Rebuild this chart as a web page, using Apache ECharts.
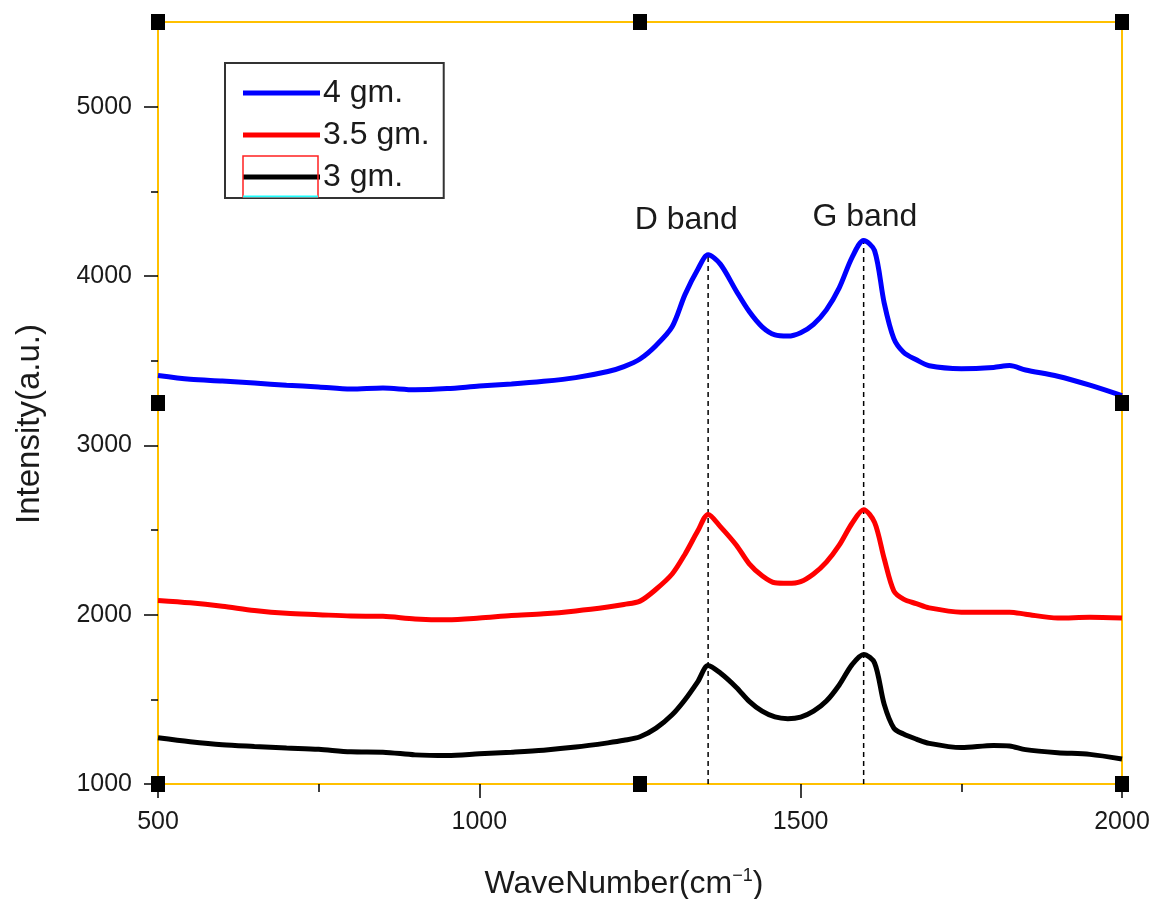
<!DOCTYPE html>
<html>
<head>
<meta charset="utf-8">
<script src="https://cdn.jsdelivr.net/npm/echarts@6/dist/echarts.min.js"></script>
<style>
  html, body { margin: 0; padding: 0; background: #fff; }
  #chart { width: 1157px; height: 899px; }
</style>
</head>
<body>
<div id="chart"></div>
<script>
// wavenumber (cm-1)
const waveNumber = [500, 550, 600, 650, 700, 750, 800, 850, 900, 950, 1000, 1050, 1100, 1150, 1200, 1225, 1250, 1275, 1300, 1320, 1340, 1356, 1375, 1400, 1420, 1440, 1460, 1480, 1500, 1520, 1540, 1560, 1580, 1598, 1615, 1630, 1645, 1660, 1680, 1700, 1750, 1800, 1825, 1850, 1900, 1950, 2000];
const intensity4gm = [3412, 3390, 3380, 3368, 3355, 3345, 3332, 3338, 3328, 3335, 3350, 3362, 3378, 3400, 3436, 3465, 3510, 3590, 3700, 3890, 4040, 4125, 4070, 3910, 3790, 3700, 3652, 3645, 3665, 3715, 3800, 3930, 4110, 4210, 4150, 3840, 3630, 3550, 3505, 3470, 3453, 3460, 3471, 3445, 3408, 3355, 3293];
const intensity35gm = [2084, 2070, 2050, 2025, 2008, 2000, 1992, 1990, 1975, 1970, 1980, 1995, 2005, 2022, 2045, 2060, 2080, 2150, 2240, 2357, 2495, 2592, 2520, 2410, 2300, 2230, 2188, 2185, 2195, 2240, 2310, 2410, 2540, 2620, 2545, 2330, 2140, 2092, 2065, 2040, 2015, 2015, 2015, 2003, 1980, 1985, 1980];
const intensity3gm = [1273, 1250, 1232, 1222, 1213, 1205, 1190, 1188, 1172, 1168, 1178, 1188, 1200, 1218, 1243, 1258, 1279, 1330, 1409, 1498, 1605, 1700, 1655, 1570, 1488, 1430, 1396, 1386, 1395, 1430, 1490, 1585, 1705, 1765, 1715, 1470, 1330, 1295, 1265, 1240, 1215, 1228, 1225, 1203, 1185, 1175, 1148];
const seriesNames = ['4 gm.', '3.5 gm.', '3 gm.'];

// band markers
const bandLabels = ['D band', 'G band'];
const bandX = [1356, 1598];
const bandTop = [4125, 4210];
const bandLabelX = [1322, 1600];
const bandLabelY = [4330, 4350];

const xTicks = [500, 1000, 1500, 2000];
const xMinorTicks = [750, 1250, 1750];
const yTicks = [1000, 2000, 3000, 4000, 5000];
const yMinorTicks = [1500, 2500, 3500, 4500];

const FONT = "'Liberation Sans', Arial, sans-serif";
const TEXT = '#1a1a1a';
const GRID = { left: 158, top: 22, right: 35, bottom: 115 };
const gw = 1157 - GRID.left - GRID.right;
const gh = 899 - GRID.top - GRID.bottom;

const zip = (xs, ys) => xs.map((x, i) => [x, ys[i]]);
const plain = v => String(v);

// selection handles around the frame
const graphics = [];
[0, 0.5, 1].forEach(fy => {
  [0, 0.5, 1].forEach(fx => {
    if (fx === 0.5 && fy === 0.5) return;
    graphics.push({
      type: 'rect', z: 100,
      shape: { x: GRID.left + fx * gw - 7, y: GRID.top + fy * gh - 8, width: 14, height: 16 },
      style: { fill: '#000' }
    });
  });
});
// stray frame behind the last legend sample
graphics.push({
  type: 'rect', z: 200,
  shape: { x: 243, y: 156, width: 75, height: 41 },
  style: { fill: 'none', stroke: '#FF2020', lineWidth: 1.5 }
});
graphics.push({
  type: 'line', z: 200,
  shape: { x1: 243, y1: 196.5, x2: 318, y2: 196.5 },
  style: { stroke: '#20FFFF', lineWidth: 2 }
});

const chart = echarts.init(document.getElementById('chart'));
const lineSeries = (name, ys, color) => ({
  name, type: 'line', data: zip(waveNumber, ys),
  smooth: 0.3, symbol: 'none', lineStyle: { color, width: 5 }, itemStyle: { color },
  z: 3
});

chart.setOption({
  backgroundColor: '#fff',
  animation: false,
  textStyle: { fontFamily: FONT },
  grid: [
    Object.assign({ show: true, borderColor: '#FFC000', borderWidth: 2, backgroundColor: 'transparent', outerBoundsMode: 'none', containLabel: false }, GRID),
    Object.assign({ outerBoundsMode: 'none', containLabel: false }, GRID)
  ],
  xAxis: [{
    type: 'value', min: 500, max: 2000, interval: 500,
    name: 'WaveNumber(cm{sup|−1})', nameLocation: 'middle', nameGap: 83,
    nameTextStyle: {
      fontSize: 32, color: TEXT, fontFamily: FONT, padding: [0, 32, 0, 0],
      rich: { sup: { fontSize: 18, color: TEXT, fontFamily: FONT, padding: [0, 0, 16, 0] } }
    },
    axisLine: { show: false },
    axisTick: { show: true, customValues: xTicks, length: 14, lineStyle: { color: '#000', width: 1.5 } },
    axisLabel: { customValues: xTicks, formatter: plain, fontSize: 25, color: TEXT, margin: 26, fontFamily: FONT },
    splitLine: { show: false }
  }, {
    type: 'value', gridIndex: 1, min: 500, max: 2000, interval: 250,
    axisLine: { show: false },
    axisTick: { show: true, customValues: xMinorTicks, length: 8, lineStyle: { color: '#000', width: 1.5 } },
    axisLabel: { show: false },
    splitLine: { show: false }
  }],
  yAxis: [{
    type: 'value', min: 1000, max: 5500, interval: 1000,
    name: 'Intensity(a.u.)', nameLocation: 'middle', nameGap: 112,
    nameTextStyle: { fontSize: 33, color: TEXT, fontFamily: FONT, padding: [0, 42, 0, 0] },
    axisLine: { show: false },
    axisTick: { show: true, customValues: yTicks, length: 14, lineStyle: { color: '#000', width: 1.5 } },
    axisLabel: { customValues: yTicks, formatter: plain, fontSize: 25, color: TEXT, margin: 26, fontFamily: FONT, padding: [3, 0, 0, 0] },
    splitLine: { show: false }
  }, {
    type: 'value', gridIndex: 1, min: 1000, max: 5500, interval: 500,
    axisLine: { show: false },
    axisTick: { show: true, customValues: yMinorTicks, length: 7, lineStyle: { color: '#000', width: 1.5 } },
    axisLabel: { show: false },
    splitLine: { show: false }
  }],
  legend: {
    data: seriesNames,
    orient: 'vertical', left: 225, top: 63,
    padding: [14, 14, 5, 18],
    icon: 'rect', itemWidth: 77, itemHeight: 5, itemGap: 10,
    borderColor: '#333', borderWidth: 2, backgroundColor: '#fff',
    textStyle: { fontSize: 32, color: TEXT, fontFamily: FONT, padding: [0, 0, 0, -2] }
  },
  graphic: graphics,
  series: [
    lineSeries(seriesNames[0], intensity4gm, '#0000FF'),
    lineSeries(seriesNames[1], intensity35gm, '#FF0000'),
    lineSeries(seriesNames[2], intensity3gm, '#000000'),
    ...bandX.map((x, i) => ({
      type: 'line', data: [[x, 1000], [x, bandTop[i]]],
      symbol: 'none', silent: true, z: 2,
      lineStyle: { color: '#000', width: 1.5, type: [5, 4] }
    })),
    {
      type: 'scatter', silent: true, z: 4,
      data: bandLabelX.map((x, i) => ({ value: [x, bandLabelY[i]], name: bandLabels[i] })),
      symbolSize: 1, itemStyle: { color: 'transparent' },
      label: {
        show: true, position: 'inside', formatter: p => p.name, fontSize: 32,
        color: TEXT, fontFamily: FONT, textBorderWidth: 0, opacity: 1
      }
    }
  ]
});
</script>
</body>
</html>
